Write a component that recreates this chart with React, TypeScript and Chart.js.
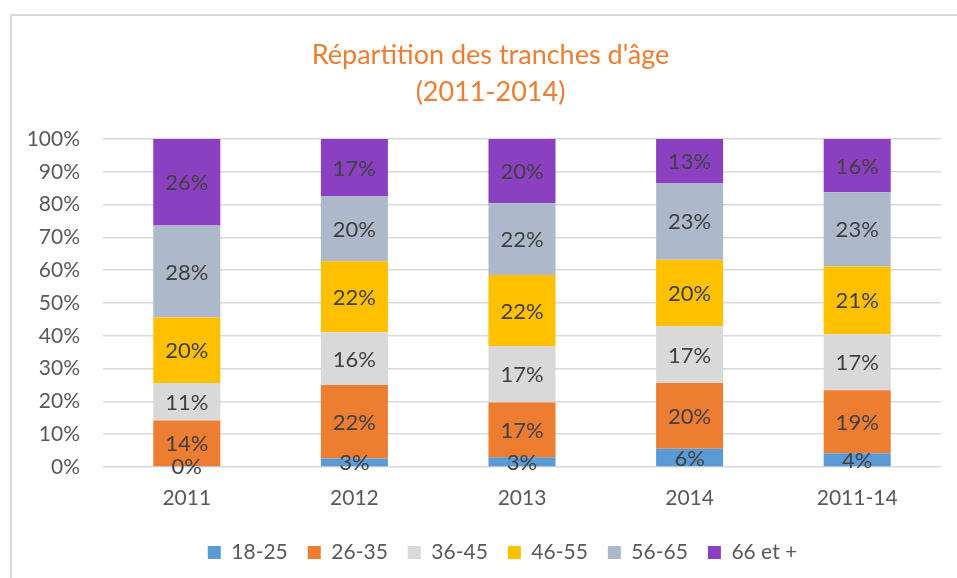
import React, { useEffect, useRef } from "react";
import { Chart, registerables } from "chart.js";

Chart.register(...registerables);

const categories = ["2011", "2012", "2013", "2014", "2011-14"];
const seriesNames = ["18-25", "26-35", "36-45", "46-55", "56-65", "66 et +"];
const seriesColors = ["#5B9BD5", "#ED7D31", "#D9D9D9", "#FFC000", "#ADB9CA", "#8B40C2"];
const s18_25 = [0.3, 2.6, 3.0, 5.6, 4.2];
const s26_35 = [13.9, 22.4, 16.7, 20.0, 19.2];
const s36_45 = [11.4, 16.1, 17.2, 17.4, 17.1];
const s46_55 = [20.0, 21.6, 21.6, 20.2, 20.6];
const s56_65 = [28.0, 19.9, 21.9, 23.4, 22.7];
const s66 = [26.4, 17.4, 19.6, 13.4, 16.2];
const seriesValues = [s18_25, s26_35, s36_45, s46_55, s56_65, s66];
const titleLines = ["Répartition des tranches d'âge", "(2011-2014)"];

const FONT = "Lato, 'Noto Sans', sans-serif";

const labelPlugin = {
  id: "segLabels",
  afterDatasetsDraw(chart: any) {
    const ctx = chart.ctx;
    ctx.save();
    ctx.font = `22px ${FONT}`;
    ctx.fillStyle = "#404040";
    ctx.textAlign = "center";
    ctx.textBaseline = "middle";
    chart.data.datasets.forEach((ds: any, di: number) => {
      const meta = chart.getDatasetMeta(di);
      meta.data.forEach((el: any, i: number) => {
        const v = ds.data[i];
        const y = (el.y + el.base) / 2;
        ctx.fillText(Math.round(v) + "%", el.x, y + 1);
      });
    });
    ctx.restore();
  },
};

const boxShift = {
  id: "boxShift",
  afterLayout(chart: any) {
    const lg = chart.legend;
    if (lg) {
      lg.left += 26;
      lg.right += 26;
    }
    const tb = chart.titleBlock;
    if (tb) {
      tb.left += 14;
      tb.right += 14;
    }
  },
};

export default function App() {
  const ref = useRef<HTMLCanvasElement>(null);
  useEffect(() => {
    if (!ref.current) return;
    const chart = new Chart(ref.current, {
      type: "bar",
      data: {
        labels: categories,
        datasets: seriesNames.map((n, i) => ({
          label: n,
          data: seriesValues[i],
          backgroundColor: seriesColors[i],
          borderWidth: 0,
          categoryPercentage: 1,
          barPercentage: 0.4,
        })),
      },
      options: {
        animation: false,
        responsive: false,
        maintainAspectRatio: false,
        layout: { padding: { left: 0, right: 27, top: 0, bottom: 5 } },
        scales: {
          x: {
            stacked: true,
            grid: { display: false, drawTicks: false },
            border: { display: false },
            ticks: { color: "#595959", font: { family: FONT, size: 21 }, padding: 19 },
            afterFit: (s: any) => {
              s.height = 55;
            },
          },
          y: {
            stacked: true,
            min: 0,
            max: 100,
            ticks: {
              stepSize: 10,
              color: "#595959",
              font: { family: FONT, size: 21 },
              padding: 23,
              callback: (v: any) => v + "%",
            },
            grid: { color: "#D9D9D9", lineWidth: 1.5, drawTicks: false },
            border: { display: false },
            afterFit: (s: any) => {
              s.width = 91;
            },
          },
        },
        plugins: {
          title: {
            display: true,
            text: titleLines,
            color: "#ED7D31",
            font: { family: FONT, size: 27, weight: "normal", lineHeight: 37 / 27 },
            padding: { top: 21, bottom: 28 },
          },
          legend: {
            position: "bottom",
            labels: {
              color: "#595959",
              font: { family: FONT, size: 21 },
              boxWidth: 13,
              boxHeight: 13,
              padding: 20,
            },
          },
          tooltip: { enabled: false },
        },
      },
      plugins: [labelPlugin, boxShift],
    });
    return () => chart.destroy();
  }, []);

  return (
    <div style={{ position: "fixed", left: 0, top: 0, width: 957, height: 578, overflow: "hidden", background: "#fff" }}>
      <div
        style={{
          position: "absolute",
          left: 10,
          top: 14,
          width: 960,
          height: 580,
          border: "2px solid #D9D9D9",
          background: "#fff",
        }}
      >
        <canvas ref={ref} width={956} height={562} style={{ display: "block", width: 956, height: 562 }} />
      </div>
    </div>
  );
}
